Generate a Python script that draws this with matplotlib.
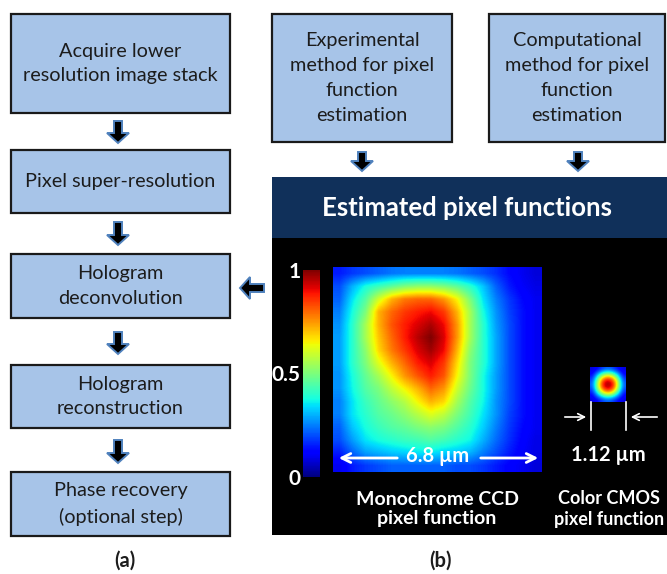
import numpy as np
import matplotlib
matplotlib.use("Agg")
import matplotlib.pyplot as plt
from matplotlib.patches import Rectangle, FancyArrow

plt.rcParams['font.family'] = ['Lato', 'DejaVu Sans']

# ---------------- data ----------------
left_steps = ["Acquire lower\nresolution image stack",
              "Pixel super-resolution",
              "Hologram\ndeconvolution",
              "Hologram\nreconstruction",
              "Phase recovery\n(optional step)"]
top_methods = ["Experimental\nmethod for pixel\nfunction\nestimation",
               "Computational\nmethod for pixel\nfunction\nestimation"]
header_title = "Estimated pixel functions"
ccd_label = "Monochrome CCD\npixel function"
cmos_label = "Color CMOS\npixel function"
ccd_size = "6.8 µm"
cmos_size = "1.12 µm"
cbar_ticks = [0, 0.5, 1]
cbar_ticklabels = ["0", "0.5", "1"]
panel_labels = ["(a)", "(b)"]

# CCD pixel function (rows top -> bottom)
ccd_pixel_function = [
    [0.15, 0.18, 0.20, 0.22, 0.24, 0.25, 0.25, 0.25, 0.25, 0.24, 0.22, 0.20, 0.17, 0.13, 0.10, 0.08],
    [0.20, 0.30, 0.38, 0.42, 0.46, 0.50, 0.52, 0.52, 0.50, 0.46, 0.40, 0.32, 0.22, 0.15, 0.11, 0.09],
    [0.22, 0.35, 0.45, 0.60, 0.72, 0.78, 0.80, 0.80, 0.75, 0.65, 0.50, 0.35, 0.25, 0.18, 0.13, 0.10],
    [0.25, 0.38, 0.50, 0.72, 0.80, 0.85, 0.88, 0.90, 0.85, 0.72, 0.55, 0.38, 0.27, 0.19, 0.14, 0.10],
    [0.27, 0.40, 0.55, 0.72, 0.82, 0.88, 0.92, 0.96, 0.90, 0.75, 0.55, 0.40, 0.28, 0.20, 0.14, 0.10],
    [0.28, 0.40, 0.55, 0.70, 0.80, 0.88, 0.95, 1.00, 0.92, 0.75, 0.55, 0.40, 0.29, 0.20, 0.14, 0.10],
    [0.28, 0.40, 0.52, 0.68, 0.78, 0.85, 0.92, 0.97, 0.90, 0.72, 0.52, 0.40, 0.29, 0.20, 0.14, 0.10],
    [0.28, 0.40, 0.50, 0.62, 0.72, 0.80, 0.88, 0.92, 0.85, 0.68, 0.50, 0.40, 0.29, 0.20, 0.14, 0.10],
    [0.27, 0.38, 0.47, 0.55, 0.65, 0.75, 0.82, 0.88, 0.82, 0.65, 0.50, 0.38, 0.28, 0.20, 0.14, 0.10],
    [0.27, 0.37, 0.45, 0.50, 0.58, 0.65, 0.72, 0.80, 0.75, 0.60, 0.48, 0.38, 0.28, 0.20, 0.14, 0.10],
    [0.25, 0.35, 0.42, 0.47, 0.52, 0.57, 0.65, 0.72, 0.68, 0.55, 0.45, 0.37, 0.27, 0.20, 0.14, 0.10],
    [0.25, 0.35, 0.40, 0.45, 0.48, 0.52, 0.57, 0.62, 0.58, 0.50, 0.43, 0.35, 0.27, 0.19, 0.14, 0.10],
    [0.22, 0.32, 0.38, 0.42, 0.45, 0.47, 0.50, 0.52, 0.50, 0.45, 0.40, 0.33, 0.25, 0.18, 0.13, 0.10],
    [0.20, 0.28, 0.35, 0.38, 0.40, 0.42, 0.43, 0.45, 0.43, 0.40, 0.37, 0.30, 0.23, 0.17, 0.12, 0.09],
    [0.15, 0.22, 0.28, 0.30, 0.32, 0.33, 0.35, 0.35, 0.33, 0.32, 0.30, 0.25, 0.20, 0.15, 0.11, 0.09],
    [0.10, 0.15, 0.18, 0.20, 0.22, 0.22, 0.22, 0.22, 0.22, 0.20, 0.20, 0.18, 0.15, 0.12, 0.10, 0.08],
]

# CMOS pixel function
cmos_pixel_function = [
    [0.08, 0.12, 0.18, 0.22, 0.18, 0.12, 0.08],
    [0.12, 0.30, 0.50, 0.58, 0.50, 0.30, 0.12],
    [0.18, 0.50, 0.80, 0.92, 0.80, 0.50, 0.18],
    [0.22, 0.58, 0.92, 1.00, 0.92, 0.58, 0.22],
    [0.18, 0.50, 0.80, 0.92, 0.80, 0.50, 0.18],
    [0.12, 0.30, 0.50, 0.58, 0.50, 0.30, 0.12],
    [0.08, 0.12, 0.18, 0.22, 0.18, 0.12, 0.08],
]

# ---------------- styling ----------------
W, H = 667, 574
box_fc = '#a7c4e8'
box_ec = '#1a1a1a'
navy = '#10305a'
arrow_ec = '#4f81bd'
txt_col = '#1c1c1c'

fig = plt.figure(figsize=(W / 100, H / 100), dpi=100)
ax = fig.add_axes([0, 0, 1, 1])
ax.set_xlim(0, W)
ax.set_ylim(H, 0)
ax.axis('off')


def box(x0, y0, x1, y1, text, fs=14.3):
    ax.add_patch(Rectangle((x0, y0), x1 - x0, y1 - y0, fc=box_fc, ec=box_ec, lw=1.6, zorder=2))
    ax.text((x0 + x1) / 2, (y0 + y1) / 2, text, ha='center', va='center',
            fontsize=fs, color=txt_col, linespacing=1.55, zorder=3)


def down_arrow(xc, y0, y1):
    ax.add_patch(FancyArrow(xc, y0, 0, y1 - y0, width=8, head_width=22, head_length=10,
                            length_includes_head=True, fc='black', ec=arrow_ec, lw=1.4, zorder=3))


# left column
left_boxes = [(11, 14, 230, 113), (11, 150, 230, 213), (11, 254, 230, 318),
              (11, 365, 230, 428), (11, 472, 230, 536)]
for (x0, y0, x1, y1), t in zip(left_boxes, left_steps):
    box(x0, y0, x1, y1, t)
for y0, y1 in [(121, 143), (222, 245), (332, 354), (440, 463)]:
    down_arrow(118, y0, y1)

# top right boxes
box(272, 14, 452, 142, top_methods[0])
box(489, 14, 665, 142, top_methods[1])
down_arrow(362, 152, 171)
down_arrow(578, 152, 171)

# header and black panel
ax.add_patch(Rectangle((272, 177), W - 272, 61, fc=navy, ec='none', zorder=2))
ax.text((272 + W) / 2 - 2, 208, header_title, ha='center', va='center',
        fontsize=18.5, fontweight='bold', color='white', zorder=3)
ax.add_patch(Rectangle((272, 238), W - 272, 297, fc='black', ec='none', zorder=2))

# left-pointing arrow into deconvolution
ax.add_patch(FancyArrow(264, 288, -24, 0, width=8, head_width=22, head_length=10,
                        length_includes_head=True, fc='black', ec=arrow_ec, lw=1.4, zorder=3))

# CCD pixel function heatmap
ccd = np.array(ccd_pixel_function)
im = ax.imshow(ccd, cmap='jet', vmin=0, vmax=1, extent=(333, 542, 472, 267),
               interpolation='bilinear', aspect='auto', zorder=4)
# CMOS pixel function
cmos = np.array(cmos_pixel_function)
ax.imshow(cmos, cmap='jet', vmin=0, vmax=1, extent=(590, 626, 402, 367),
          interpolation='bicubic', aspect='auto', zorder=4)
ax.set_xlim(0, W)
ax.set_ylim(H, 0)

# colorbar
cax = fig.add_axes([303 / W, 1 - 477 / H, 17 / W, 207 / H])
cb = fig.colorbar(im, cax=cax, ticks=cbar_ticks)
cb.outline.set_visible(False)
cax.yaxis.set_ticks_position('left')
cax.set_yticklabels(cbar_ticklabels)
cax.tick_params(axis='y', length=0, pad=2, labelcolor='white', labelsize=15)
for lab in cax.get_yticklabels():
    lab.set_fontweight('bold')

# 6.8 um double arrow
ax.annotate('', xy=(336, 458), xytext=(400, 458),
            arrowprops=dict(arrowstyle='->', color='white', lw=2, mutation_scale=16), zorder=5)
ax.annotate('', xy=(541, 458), xytext=(478, 458),
            arrowprops=dict(arrowstyle='->', color='white', lw=2, mutation_scale=16), zorder=5)
ax.text(438, 456, ccd_size, ha='center', va='center', fontsize=14.5, fontweight='bold',
        color='white', zorder=5)

# 1.12 um marks
ax.plot([591, 591], [402, 430], color='white', lw=1.2, zorder=5)
ax.plot([626, 626], [402, 430], color='white', lw=1.2, zorder=5)
ax.annotate('', xy=(589, 417), xytext=(562, 417),
            arrowprops=dict(arrowstyle='->', color='white', lw=1.2, mutation_scale=12), zorder=5)
ax.annotate('', xy=(628, 417), xytext=(660, 417),
            arrowprops=dict(arrowstyle='->', color='white', lw=1.2, mutation_scale=12), zorder=5)
ax.text(608, 455, cmos_size, ha='center', va='center', fontsize=14.5, fontweight='bold',
        color='white', zorder=5)

# labels under images
ax.text(437, 509, ccd_label, ha='center', va='center', fontsize=14, fontweight='bold',
        color='white', linespacing=1.2, zorder=5)
ax.text(609, 509, cmos_label, ha='center', va='center', fontsize=13, fontweight='bold',
        color='white', linespacing=1.3, zorder=5)

# panel labels
ax.text(125, 561, panel_labels[0], ha='center', va='center', fontsize=14.5, fontweight='bold',
        color=txt_col)
ax.text(441, 561, panel_labels[1], ha='center', va='center', fontsize=14.5, fontweight='bold',
        color=txt_col)

fig.savefig('out.png', dpi=100)
